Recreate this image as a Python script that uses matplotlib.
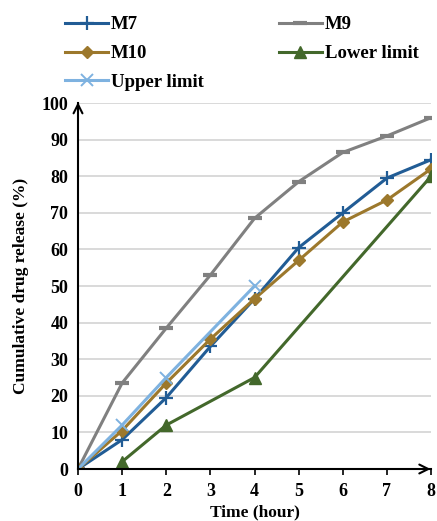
import matplotlib
matplotlib.use('Agg')
import matplotlib.pyplot as plt

# Dissolution profiles (time in hours, cumulative release in %)
tempo = [0, 1, 2, 3, 4, 5, 6, 7, 8]
m7 = [0, 8, 19.5, 33.5, 46.5, 60.5, 70, 79.5, 84.5]
m9 = [0, 23.5, 38.5, 53, 68.5, 78.5, 86.5, 91, 96]
m10 = [0, 10.5, 23.5, 35.5, 46.5, 57, 67.5, 73.5, 82]
tempo_inf = [1, 2, 4, 8]
limite_inf = [2, 12, 25, 80]
tempo_sup = [0, 1, 2, 4]
limite_sup = [0, 12, 25, 50]

cor_m7 = '#215C95'
cor_m9 = '#808080'
cor_m10 = '#9C782C'
cor_inf = '#43682B'
cor_sup = '#7EB2E0'

plt.rcParams['font.family'] = ['Liberation Serif', 'DejaVu Serif']
plt.rcParams['font.weight'] = 'bold'

fig = plt.figure(figsize=(4.37, 5.21), dpi=100)
ax = fig.add_axes([0.1785, 0.0998, 0.808, 0.7025])

ax.yaxis.grid(True, color='#D9D9D9', linewidth=1.4)
ax.set_axisbelow(True)

l_m7, = ax.plot(tempo, m7, color=cor_m7, lw=2.2, marker='+', ms=10, mew=1.6, label='M7')
l_m9, = ax.plot(tempo, m9, color=cor_m9, lw=2.2, marker='_', ms=10, mew=3, label='M9')
l_m10, = ax.plot(tempo, m10, color=cor_m10, lw=2.2, marker='D', ms=6.5, label='M10')
l_inf, = ax.plot(tempo_inf, limite_inf, color=cor_inf, lw=2.2, marker='^', ms=8, label='Lower limit')
l_sup, = ax.plot(tempo_sup, limite_sup, color=cor_sup, lw=2.2, marker='x', ms=8, mew=1.4, label='Upper limit')

ax.set_xlim(0, 8)
ax.set_ylim(0, 100)
ax.set_xticks(range(0, 9))
ax.set_yticks(range(0, 101, 10))
ax.tick_params(axis='x', direction='out', length=4, width=1.2, labelsize=13, pad=6)
ax.tick_params(axis='y', length=0, labelsize=13, pad=7)
for s in ['top', 'right']:
    ax.spines[s].set_visible(False)
ax.spines['left'].set_linewidth(1.5)
ax.spines['bottom'].set_linewidth(1.5)

# arrow heads at the ends of the axes
ax.annotate('', xy=(0, 101), xytext=(0, 97), xycoords='data',
            arrowprops=dict(arrowstyle='->', color='black', lw=1.5, mutation_scale=16),
            annotation_clip=False)
ax.annotate('', xy=(8.05, 0), xytext=(7.8, 0), xycoords='data',
            arrowprops=dict(arrowstyle='->', color='black', lw=1.5, mutation_scale=16),
            annotation_clip=False)

ax.set_xlabel('Time (hour)', fontsize=12.5, fontweight='bold', labelpad=3)
ax.set_ylabel('Cumulative drug release (%)', fontsize=12.5, fontweight='bold', labelpad=9)

fig.legend(handles=[l_m7, l_m10, l_sup, l_m9, l_inf], ncol=2, frameon=False,
           loc='upper left', bbox_to_anchor=(65 / 437, 1 - 16 / 521), fontsize=13.5,
           borderpad=0, borderaxespad=0,
           handlelength=2.3, labelspacing=0.63, columnspacing=4.0, handletextpad=0.15)

fig.savefig('out.png', dpi=100, facecolor='white')
